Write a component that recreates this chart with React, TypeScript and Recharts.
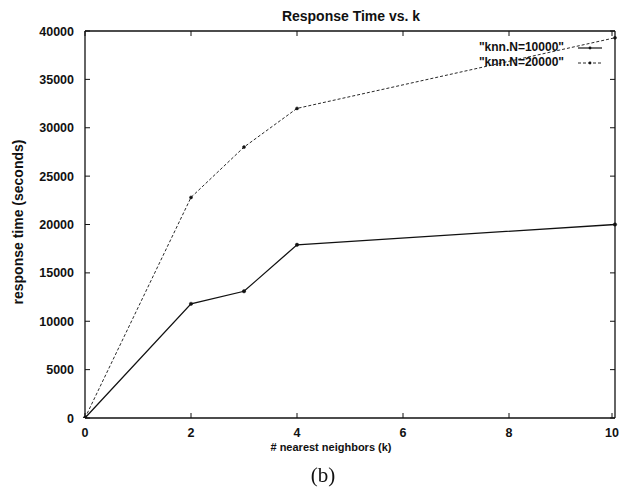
import React from 'react';
import { LineChart, Line, XAxis, YAxis, Legend, Label } from 'recharts';

// k values on the x axis and measured response times (seconds)
const kValues = [0, 2, 3, 4, 10];
const timeN10000 = [0, 11800, 13100, 17900, 20000];
const timeN20000 = [0, 22800, 28000, 32000, 39300];

const xTicks = [0, 2, 4, 6, 8, 10];
const yTicks = [0, 5000, 10000, 15000, 20000, 25000, 30000, 35000, 40000];

const seriesNames = ['"knn.N=10000"', '"knn.N=20000"'];
const chartTitle = 'Response Time vs. k';
const xTitle = '# nearest neighbors (k)';
const yTitle = 'response time (seconds)';
const caption = '(b)';

const data = kValues.map((k, i) => ({ k, n10000: timeN10000[i], n20000: timeN20000[i] }));

const FONT = '"Liberation Sans", Arial, Helvetica, sans-serif';
const INK = '#111';
const TICK_LEN = 5;

const DASHED = '3 2';

// gnuplot style: ticks point into the plot box
const BottomTick = ({ x, y, payload }: any) => (
  <g>
    <line x1={x} y1={y} x2={x} y2={y - TICK_LEN} stroke={INK} strokeWidth={1} />
    <text x={x} y={y + 19} textAnchor="middle" fontSize={12.5} fontWeight="bold" fontFamily={FONT} fill={INK}>
      {payload.value}
    </text>
  </g>
);

const TopTick = ({ x, y }: any) => (
  <line x1={x} y1={y} x2={x} y2={y + TICK_LEN} stroke={INK} strokeWidth={1} />
);

const LeftTick = ({ x, y, payload }: any) => (
  <g>
    <line x1={x} y1={y} x2={x + TICK_LEN} y2={y} stroke={INK} strokeWidth={1} />
    <text x={x - 11} y={y + 4.5} textAnchor="end" fontSize={12.5} fontWeight="bold" fontFamily={FONT} fill={INK}>
      {payload.value}
    </text>
  </g>
);

const RightTick = ({ x, y }: any) => (
  <line x1={x} y1={y} x2={x - TICK_LEN} y2={y} stroke={INK} strokeWidth={1} />
);

const TitleLabel = ({ viewBox }: any) => {
  const cx = viewBox ? viewBox.x + viewBox.width / 2 : 350;
  return (
    <text x={cx + 1} y={21} textAnchor="middle" fontSize={14} fontWeight="bold" fontFamily={FONT} fill={INK}>
      {chartTitle}
    </text>
  );
};

const XTitleLabel = ({ viewBox }: any) => {
  const cx = viewBox ? viewBox.x + viewBox.width / 2 : 350;
  return (
    <text x={cx - 19} y={451} textAnchor="middle" fontSize={11} fontWeight="bold" fontFamily={FONT} fill={INK}>
      {xTitle}
    </text>
  );
};

const YTitleLabel = () => (
  <text
    x={18}
    y={222}
    transform="rotate(-90 18 222)"
    textAnchor="middle"
    dominantBaseline="central"
    fontSize={14}
    fontWeight="bold"
    fontFamily={FONT}
    fill={INK}
  >
    {yTitle}
  </text>
);

const LegendBox = ({ payload }: any) => (
  <div style={{ fontFamily: FONT, fontSize: 12, fontWeight: 'bold', color: INK }}>
    {(payload || [])
      .filter((entry: any) => entry.type !== 'none' && seriesNames.includes(entry.value))
      .map((entry: any) => {
        const dashed = entry.dataKey === 'n20000';
        return (
          <div
            key={entry.value}
            style={{ display: 'flex', alignItems: 'center', justifyContent: 'flex-end', height: 15, lineHeight: '15px' }}
          >
            <span>{entry.value}</span>
            <svg width={38} height={10} style={{ display: 'block' }}>
              <line
                x1={14}
                y1={5}
                x2={38}
                y2={5}
                stroke={INK}
                strokeWidth={dashed ? 0.9 : 1.2}
                strokeDasharray={dashed ? DASHED : undefined}
              />
              <circle cx={26} cy={5} r={1.4} fill={INK} />
            </svg>
          </div>
        );
      })}
  </div>
);

export default function App() {
  return (
    <div style={{ position: 'fixed', left: 0, top: 0, width: 620, height: 491, background: '#fff' }}>
      <LineChart width={620} height={491} data={data} margin={{ top: 30, right: 0, bottom: 33, left: 10 }}>
        <XAxis
          dataKey="k"
          type="number"
          domain={[0, 10]}
          ticks={xTicks}
          height={40}
          tickSize={0}
          tickMargin={0}
          tickLine={false}
          tick={<BottomTick />}
          axisLine={{ stroke: INK, strokeWidth: 1.3 }}
        >
          <Label content={<XTitleLabel />} />
        </XAxis>
        <XAxis
          xAxisId="t"
          orientation="top"
          dataKey="k"
          type="number"
          domain={[0, 10]}
          ticks={xTicks}
          height={1}
          tickSize={0}
          tickMargin={0}
          tickLine={false}
          tick={<TopTick />}
          axisLine={{ stroke: INK, strokeWidth: 1.3 }}
        >
          <Label content={<TitleLabel />} />
        </XAxis>
        <YAxis
          type="number"
          domain={[0, 40000]}
          ticks={yTicks}
          width={75}
          tickSize={0}
          tickMargin={0}
          tickLine={false}
          tick={<LeftTick />}
          axisLine={{ stroke: INK, strokeWidth: 1.3 }}
          allowDataOverflow
        >
          <Label content={<YTitleLabel />} />
        </YAxis>
        <YAxis
          yAxisId="r"
          orientation="right"
          type="number"
          domain={[0, 40000]}
          ticks={yTicks}
          width={5}
          tickSize={0}
          tickMargin={0}
          tickLine={false}
          tick={<RightTick />}
          axisLine={{ stroke: INK, strokeWidth: 1.3 }}
          allowDataOverflow
        />
        <Legend
          layout="horizontal"
          verticalAlign="middle"
          align="center"
          content={<LegendBox />}
          wrapperStyle={{ top: 40, right: 18, width: 'auto' }}
        />
        <Line
          dataKey="n10000"
          name={seriesNames[0]}
          stroke={INK}
          strokeWidth={1.3}
          dot={{ r: 1.7, fill: INK, stroke: INK, strokeWidth: 0.5 }}
          activeDot={false}
          isAnimationActive={false}
        />
        <Line
          dataKey="n20000"
          name={seriesNames[1]}
          stroke={INK}
          strokeWidth={0.9}
          strokeDasharray={DASHED}
          dot={{ r: 1.5, fill: INK, stroke: INK, strokeWidth: 0.5, strokeDasharray: '' }}
          activeDot={false}
          isAnimationActive={false}
        />
        {/* keeps the mirrored top/right axes bound to the same data */}
        <Line
          xAxisId="t"
          yAxisId="r"
          dataKey="n10000"
          stroke="none"
          dot={false}
          activeDot={false}
          legendType="none"
          isAnimationActive={false}
        />
      </LineChart>
      <div
        style={{
          position: 'absolute',
          left: 0,
          top: 465,
          width: 646,
          textAlign: 'center',
          fontFamily: '"Liberation Serif", "Times New Roman", serif',
          fontSize: 21,
          lineHeight: 1,
          color: INK,
        }}
      >
        {caption}
      </div>
    </div>
  );
}
